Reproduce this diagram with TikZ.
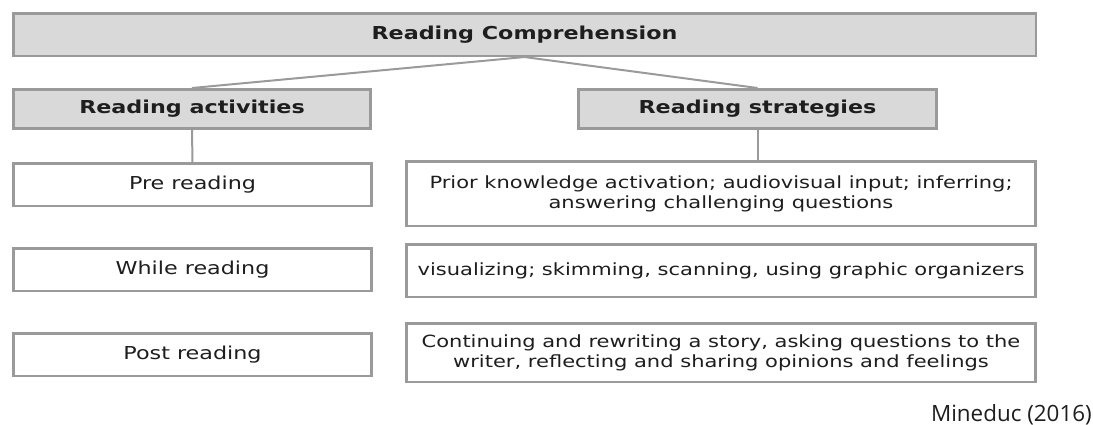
\documentclass[tikz,border=0pt]{standalone}
\usepackage{fontspec}
\setmainfont{DejaVu Sans}[FakeStretch=1.25]
\newfontfamily\notefont{Open Sans}
\usepackage{xcolor}
\usepackage{tikz}
\usetikzlibrary{positioning}

\definecolor{boxfill}{HTML}{D9D9D9}
\definecolor{boxline}{HTML}{9A9A9A}
\definecolor{boxtext}{HTML}{1E1E1E}

\tikzset
{
  headbox/.style={draw=boxline,line width=1.9pt,fill=boxfill,inner sep=0pt,
    minimum height=31.9pt,text=boxtext,font=\bfseries},
  itembox/.style={draw=boxline,line width=1.9pt,fill=white,inner sep=0pt,
    minimum width=268.5pt,minimum height=31.9pt,text=boxtext},
  ideabox/.style={itembox,minimum width=472pt,align=center,
    font=\fontsize{12.6pt}{15pt}\selectfont},
  link/.style={draw=boxline,line width=1.5pt}
}

\begin{document}
\begin{tikzpicture}[x=0.75pt,y=-0.75pt]
    \fontsize{13.35pt}{15pt}\selectfont
    \useasboundingbox (0,0) rectangle (1093,425);

    % Headings
    \node[headbox, minimum width=766.9pt] (comp) at (524.5,34.5) {Reading Comprehension};
    \node[headbox, minimum width=268pt, minimum height=29.6pt] (act) at (192,109) {Reading activities};
    \node[headbox, minimum width=268.5pt, minimum height=29.6pt] (strat) at (757.5,109) {Reading strategies};

    % Activities column
    \node[itembox] (pre) at (192.5,184.5) {Pre reading};
    \node[itembox] (while) at (192.5,269.5) {While reading};
    \node[itembox] (post) at (192.5,354.5) {Post reading};

    % Strategies column
    \node[ideabox, minimum height=48.4pt] (prior) at (721,193.5)
        {Prior knowledge activation; audiovisual input; inferring;\\ answering challenging questions};
    \node[ideabox, minimum height=39.4pt] (visual) at (721,270.5)
        {visualizing; skimming, scanning, using graphic organizers};
    \node[ideabox, minimum height=43.9pt] (cont) at (721,352.5)
        {Continuing and rewriting a story, asking questions to the\\ writer, reflecting and sharing opinions and feelings};

    % Links
    \draw[link] (comp.south) -- (act.north);
    \draw[link] (comp.south) -- (strat.north);
    \draw[link] (act) -- (pre);
    \draw[link] (strat.south) -- (strat.south |- prior.north);

    % Source
    \node[anchor=base east, inner sep=0pt, font=\notefont\fontsize{16.8pt}{18pt}\selectfont, text=boxtext]
        (source) at (1092,421) {Mineduc (2016)};
\end{tikzpicture}
\end{document}
